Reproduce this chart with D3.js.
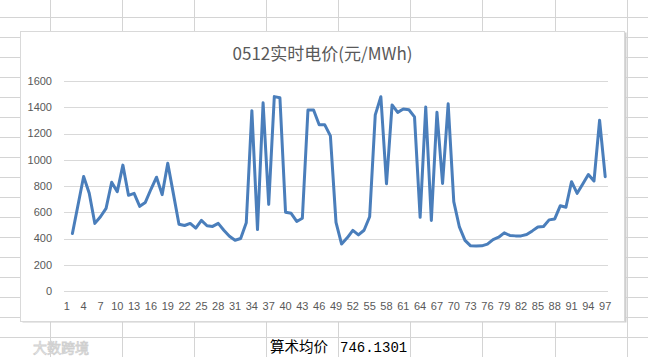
<!DOCTYPE html>
<html>
<head>
<meta charset="utf-8">
<script src="https://cdn.jsdelivr.net/npm/d3@7"></script>
<style>
  body { margin: 0; background: #fff; }
  svg { display: block; }
</style>
</head>
<body>
<div id="chartArea"></div>
<script>
// chart data
const categories = [1, 2, 3, 4, 5, 6, 7, 8, 9, 10, 11, 12, 13, 14, 15, 16, 17, 18, 19, 20,
  21, 22, 23, 24, 25, 26, 27, 28, 29, 30, 31, 32, 33, 34, 35, 36, 37, 38, 39, 40,
  41, 42, 43, 44, 45, 46, 47, 48, 49, 50, 51, 52, 53, 54, 55, 56, 57, 58, 59, 60,
  61, 62, 63, 64, 65, 66, 67, 68, 69, 70, 71, 72, 73, 74, 75, 76, 77, 78, 79, 80,
  81, 82, 83, 84, 85, 86, 87, 88, 89, 90, 91, 92, 93, 94, 95, 96, 97];

// first category has no value
const prices = [null, 438, 655, 872, 745, 515, 566, 630, 829, 757,
  959, 729, 744, 645, 675, 775, 867, 734, 974, 742,
  509, 499, 515, 479, 538, 497, 492, 515, 463, 417,
  387, 400, 520, 1374, 468, 1434, 660, 1481, 1472, 600,
  592, 530, 554, 1379, 1379, 1266, 1266, 1182, 523, 358,
  405, 462, 427, 463, 566, 1342, 1480, 817, 1418, 1361,
  1387, 1381, 1327, 561, 1401, 538, 1362, 819, 1426, 681,
  488, 386, 344, 343, 344, 357, 392, 410, 443, 423,
  420, 420, 430, 458, 488, 491, 542, 549, 650, 638,
  833, 744, 815, 888, 838, 1301, 871];

const yTicks = [0, 200, 400, 600, 800, 1000, 1200, 1400, 1600];
const xTickLabels = categories.filter((d, i) => i % 3 === 0);

const title = "0512实时电价(元/MWh)";
const avgLabel = "算术均价";
const avgValue = "746.1301";

const W = 648, H = 357;

const svg = d3.select("#chartArea")
  .append("svg")
  .attr("width", W)
  .attr("height", H);

// spreadsheet grid behind the chart
const colLines = [50, 122, 194, 266, 338, 410, 482, 555, 627];
const rowLines = d3.range(17, H + 1, 20);
svg.selectAll("colLines")
  .data(colLines)
  .enter()
  .append("line")
  .attr("x1", d => d + 0.5).attr("x2", d => d + 0.5)
  .attr("y1", 0).attr("y2", H)
  .attr("stroke", "#d4d4d4");
svg.selectAll("rowLines")
  .data(rowLines)
  .enter()
  .append("line")
  .attr("x1", 0).attr("x2", W)
  .attr("y1", d => d + 0.5).attr("y2", d => d + 0.5)
  .attr("stroke", "#d4d4d4");

// chart frame
const frame = { x: 20.5, y: 31.5, w: 604, h: 290 };
svg.append("rect")
  .attr("x", frame.x + 2).attr("y", frame.y + 1)
  .attr("width", frame.w).attr("height", frame.h)
  .attr("fill", "#cfcfcf");
svg.append("rect")
  .attr("x", frame.x).attr("y", frame.y)
  .attr("width", frame.w).attr("height", frame.h)
  .attr("fill", "#fff")
  .attr("stroke", "#d9d9d9");

svg.append("text")
  .attr("x", frame.x + frame.w / 2)
  .attr("y", 60)
  .attr("text-anchor", "middle")
  .style("font-family", "'Noto Sans CJK SC', 'Liberation Sans', sans-serif")
  .style("font-size", "17px")
  .style("fill", "#595959")
  .text(title);

// plot area
const margin = { left: 64, right: 608, top: 81, bottom: 291 };

const xScale = d3.scaleBand()
  .domain(categories)
  .range([margin.left, margin.right]);

const yScale = d3.scaleLinear()
  .domain([0, 1600])
  .range([margin.bottom, margin.top]);

const tickFont = "'Liberation Sans', Arial, sans-serif";

svg.selectAll("gridLines")
  .data(yTicks)
  .enter()
  .append("line")
  .attr("x1", margin.left).attr("x2", margin.right)
  .attr("y1", d => Math.round(yScale(d)) + 0.5)
  .attr("y2", d => Math.round(yScale(d)) + 0.5)
  .attr("stroke", "#d9d9d9");

svg.selectAll("yLabels")
  .data(yTicks)
  .enter()
  .append("text")
  .attr("x", 52)
  .attr("y", d => yScale(d))
  .attr("dy", "0.35em")
  .attr("text-anchor", "end")
  .style("font-family", tickFont)
  .style("font-size", "11px")
  .style("fill", "#595959")
  .text(d => d);

svg.selectAll("xLabels")
  .data(xTickLabels)
  .enter()
  .append("text")
  .attr("x", d => xScale(d) + xScale.bandwidth() / 2)
  .attr("y", 306)
  .attr("dy", "0.35em")
  .attr("text-anchor", "middle")
  .style("font-family", tickFont)
  .style("font-size", "11px")
  .style("fill", "#595959")
  .text(d => d);

const line = d3.line()
  .defined(d => d.v != null)
  .x(d => xScale(d.c) + xScale.bandwidth() / 2)
  .y(d => yScale(d.v));

svg.append("path")
  .datum(categories.map((c, i) => ({ c: c, v: prices[i] })))
  .attr("d", line)
  .attr("fill", "none")
  .attr("stroke", "#4a7ebb")
  .attr("stroke-width", 3)
  .attr("stroke-linejoin", "round")
  .attr("stroke-linecap", "round");

// cells under the chart
svg.append("text")
  .attr("x", 270).attr("y", 352)
  .style("font-family", "'Noto Sans CJK SC', sans-serif")
  .style("font-size", "14.5px")
  .style("fill", "#000")
  .text(avgLabel);
svg.append("text")
  .attr("x", 340).attr("y", 352)
  .style("font-family", "'Liberation Mono', monospace")
  .style("font-size", "14px")
  .style("fill", "#000")
  .text(avgValue);

// faint watermark
svg.append("text")
  .attr("x", 33).attr("y", 353)
  .style("font-family", "'Noto Sans CJK SC', sans-serif")
  .style("font-size", "14px")
  .style("fill", "#fff")
  .style("stroke", "#d0d0d0")
  .style("stroke-width", 0.8)
  .text("大数跨境");
</script>
</body>
</html>
